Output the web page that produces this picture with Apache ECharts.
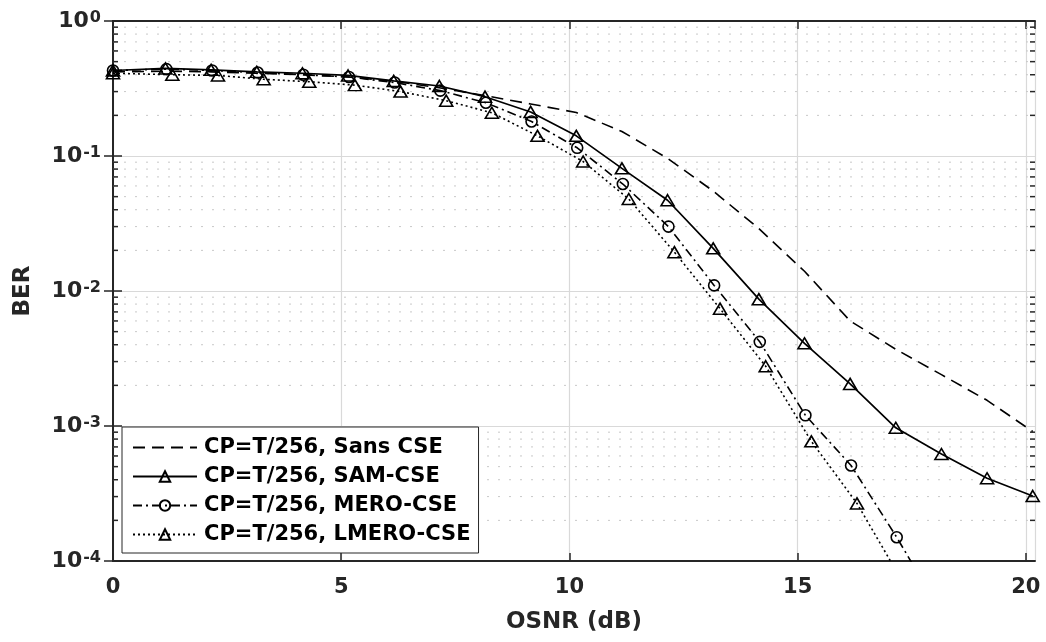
<!DOCTYPE html>
<html>
<head>
<meta charset="utf-8">
<script src="https://cdn.jsdelivr.net/npm/echarts@6/dist/echarts.min.js"></script>
<style>
html,body{margin:0;padding:0;background:#fff;}
#chart{width:1046px;height:642px;}
</style>
</head>
<body>
<div id="chart"></div>
<script>
// ---- Data ----
const seriesNames = ['CP=T/256, Sans CSE', 'CP=T/256, SAM-CSE', 'CP=T/256, MERO-CSE', 'CP=T/256, LMERO-CSE'];
const xTitle = 'OSNR (dB)';
const yTitle = 'BER';
const xTicks = [0, 5, 10, 15, 20];

const osnrSans = [0, 1.15, 2.15, 3.15, 4.15, 5.15, 6.15, 7.15, 8.15, 9.15, 10.15, 11.15, 12.15, 13.15, 14.15, 15.15, 16.15, 17.15, 18.15, 19.15, 20.15];
const berSans  = [0.42, 0.425, 0.42, 0.41, 0.40, 0.385, 0.358, 0.32, 0.28, 0.243, 0.21, 0.152, 0.096, 0.055, 0.029, 0.014, 0.0060, 0.0037, 0.0024, 0.00155, 0.00091];

const osnrSam = [0, 1.15, 2.15, 3.15, 4.15, 5.15, 6.15, 7.15, 8.15, 9.15, 10.15, 11.15, 12.15, 13.15, 14.15, 15.15, 16.15, 17.15, 18.15, 19.15, 20.15];
const berSam  = [0.43, 0.445, 0.435, 0.42, 0.41, 0.395, 0.36, 0.33, 0.275, 0.212, 0.141, 0.081, 0.047, 0.0207, 0.0087, 0.0041, 0.00205, 0.00097, 0.00062, 0.00041, 0.000303];

const osnrMero = [0, 1.17, 2.17, 3.17, 4.17, 5.17, 6.17, 7.17, 8.17, 9.17, 10.17, 11.17, 12.17, 13.17, 14.17, 15.17, 16.17, 17.17, 18.17];
const berMero  = [0.43, 0.44, 0.43, 0.415, 0.40, 0.385, 0.35, 0.305, 0.248, 0.18, 0.115, 0.062, 0.030, 0.011, 0.0042, 0.0012, 0.00051, 0.00015, 0.00004];

const osnrLmero = [0, 1.3, 2.3, 3.3, 4.3, 5.3, 6.3, 7.3, 8.3, 9.3, 10.3, 11.3, 12.3, 13.3, 14.3, 15.3, 16.3, 17.3];
const berLmero  = [0.41, 0.40, 0.395, 0.37, 0.355, 0.335, 0.30, 0.257, 0.209, 0.141, 0.091, 0.048, 0.0194, 0.0074, 0.00277, 0.00077, 0.000267, 0.00007];

// ---- Build ----
const pairs = (xs, ys) => xs.map((x, i) => [x, ys[i]]);
const minorVals = [];
for (let e = -4; e < 0; e++) {
  for (let m = 2; m <= 9; m++) minorVals.push([0, m * Math.pow(10, e)]);
}

const FONT = 'DejaVu Sans';
const INK = '#262626';

function supLabel(v) {
  const e = Math.round(Math.log10(v));
  return '{b|10}{s|' + e + '}';
}

function renderMinor(params, api) {
  const cs = params.coordSys;
  const y = api.coord([0, api.value(1)])[1];
  return {
    type: 'group',
    children: [
      { type: 'line', shape: { x1: cs.x, y1: y, x2: cs.x + cs.width, y2: y },
        style: { stroke: '#c8c8c8', lineWidth: 1, lineDash: [2, 9] } },
      { type: 'line', shape: { x1: cs.x, y1: y, x2: cs.x + 5, y2: y },
        style: { stroke: INK, lineWidth: 1.5 } },
      { type: 'line', shape: { x1: cs.x + cs.width - 5, y1: y, x2: cs.x + cs.width, y2: y },
        style: { stroke: INK, lineWidth: 1.5 } }
    ]
  };
}

const markerStyle = { color: 'rgba(0,0,0,0)', borderColor: '#000', borderWidth: 1.6 };
const hiddenMarker = { color: 'rgba(0,0,0,0)', borderColor: 'rgba(0,0,0,0)', borderWidth: 0 };

const option = {
  animation: false,
  backgroundColor: '#fff',
  grid: { left: 113, right: 11, top: 21, bottom: 81 },
  legend: {
    data: [
      { name: seriesNames[0], itemStyle: hiddenMarker },
      { name: seriesNames[1] },
      { name: seriesNames[2] },
      { name: seriesNames[3] }
    ],
    orient: 'vertical',
    left: 122, top: 427,
    padding: [10, 8, 8, 10],
    itemGap: 8,
    itemWidth: 64,
    itemHeight: 13,
    backgroundColor: '#fff',
    borderColor: INK,
    borderWidth: 1,
    borderRadius: 0,
    textStyle: { fontFamily: FONT, fontWeight: 'bold', fontSize: 21, color: '#000', padding: [0, 0, 0, 2] }
  },
  xAxis: [{
    type: 'value', min: 0, max: 20.2, interval: 5,
    name: xTitle, nameLocation: 'middle', nameGap: 50,
    nameTextStyle: { fontFamily: FONT, fontWeight: 'bold', fontSize: 23, color: INK },
    axisLine: { show: true, lineStyle: { color: INK, width: 2 } },
    axisTick: { inside: true, length: 8, lineStyle: { color: INK, width: 1.5 } },
    axisLabel: { showMaxLabel: false, margin: 16, fontFamily: FONT, fontWeight: 'bold', fontSize: 21, color: INK,
      formatter: v => (xTicks.indexOf(v) >= 0 ? String(v) : '') },
    splitLine: { show: true, lineStyle: { color: '#d9d9d9', width: 1.2 } }
  }, {
    type: 'value', min: 0, max: 20.2, interval: 5, position: 'top',
    axisLine: { show: true, lineStyle: { color: INK, width: 2 } },
    axisTick: { inside: true, length: 8, lineStyle: { color: INK, width: 1.5 } },
    axisLabel: { show: false }, splitLine: { show: false }
  }],
  yAxis: [{
    type: 'log', logBase: 10, min: 1e-4, max: 1,
    name: yTitle, nameLocation: 'middle', nameGap: 78, nameRotate: 90,
    nameTextStyle: { fontFamily: FONT, fontWeight: 'bold', fontSize: 23, color: INK },
    axisLine: { show: true, lineStyle: { color: INK, width: 2 } },
    axisTick: { inside: true, length: 9, lineStyle: { color: INK, width: 1.5 } },
    axisLabel: {
      margin: 12, formatter: supLabel, fontSize: 22, fontFamily: FONT, fontWeight: 'bold', color: INK,
      rich: {
        b: { fontFamily: FONT, fontWeight: 'bold', fontSize: 22, color: INK, lineHeight: 22, padding: [8, 1, 0, 0], verticalAlign: 'bottom' },
        s: { fontFamily: FONT, fontWeight: 'bold', fontSize: 16, color: INK, lineHeight: 16, verticalAlign: 'top' }
      }
    },
    splitLine: { show: true, lineStyle: { color: '#d9d9d9', width: 1.2 } }
  }, {
    type: 'log', logBase: 10, min: 1e-4, max: 1, position: 'right',
    axisLine: { show: true, lineStyle: { color: INK, width: 2 } },
    axisTick: { inside: true, length: 9, lineStyle: { color: INK, width: 1.5 } },
    axisLabel: { show: false }, splitLine: { show: false }
  }],
  series: [
    {
      type: 'custom', name: 'minor', xAxisIndex: 0, yAxisIndex: 0, silent: true, z: 1,
      renderItem: renderMinor, encode: { x: 0, y: 1 }, data: minorVals
    },
    {
      name: seriesNames[0], type: 'line', xAxisIndex: 0, yAxisIndex: 0, z: 3,
      data: pairs(osnrSans, berSans), symbol: 'none',
      lineStyle: { color: '#000', width: 1.6, type: [12, 7] },
      itemStyle: hiddenMarker
    },
    {
      name: seriesNames[1], type: 'line', xAxisIndex: 0, yAxisIndex: 0, z: 3,
      data: pairs(osnrSam, berSam), symbol: 'triangle', symbolSize: [13, 11], showAllSymbol: true,
      lineStyle: { color: '#000', width: 1.7, type: 'solid' },
      itemStyle: markerStyle
    },
    {
      name: seriesNames[2], type: 'line', xAxisIndex: 0, yAxisIndex: 0, z: 3,
      data: pairs(osnrMero, berMero), symbol: 'circle', symbolSize: 11, showAllSymbol: true,
      lineStyle: { color: '#000', width: 1.6, type: [9, 4, 2, 4] },
      itemStyle: markerStyle
    },
    {
      name: seriesNames[3], type: 'line', xAxisIndex: 0, yAxisIndex: 0, z: 3,
      data: pairs(osnrLmero, berLmero), symbol: 'triangle', symbolSize: [13, 11], showAllSymbol: true,
      lineStyle: { color: '#000', width: 1.6, type: [2, 3] },
      itemStyle: markerStyle
    }
  ]
};

const chart = echarts.init(document.getElementById('chart'), null, { renderer: 'canvas' });
chart.setOption(option);
</script>
</body>
</html>
